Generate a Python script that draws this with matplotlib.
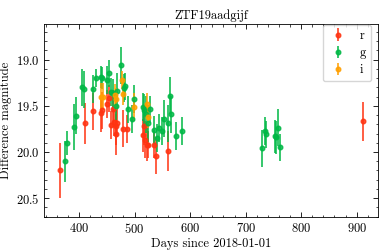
import matplotlib
matplotlib.use("Agg")
import matplotlib.pyplot as plt
from matplotlib.ticker import MultipleLocator

plt.rcParams['font.family'] = ['cmr10', 'DejaVu Serif']
plt.rcParams['axes.formatter.use_mathtext'] = True
plt.rcParams['font.size'] = 9

# r band
r_days = [365.8, 410.2, 425.2, 439.6, 442.0, 450.5, 454.7, 457.7, 461.9, 463.0,
          466.0, 466.7, 469.0, 480.0, 486.0, 514.7, 516.5, 519.5, 522.0, 524.3,
          535.0, 538.7, 559.8, 911.0]
r_mag = [20.20, 19.69, 19.56, 19.58, 19.55, 19.48, 19.42, 19.71, 19.53, 19.68,
         19.81, 19.72, 19.69, 19.75, 19.75, 19.82, 19.72, 19.87, 19.92, 19.92,
         19.92, 20.04, 19.99, 19.67]
r_err = [0.30, 0.22, 0.20, 0.20, 0.20, 0.15, 0.15, 0.15, 0.20, 0.15,
         0.22, 0.20, 0.15, 0.20, 0.15, 0.18, 0.20, 0.20, 0.18, 0.15,
         0.15, 0.20, 0.22, 0.21]

# g band
g_days = [374.8, 377.8, 391.0, 395.2, 405.4, 409.6, 425.2, 431.2, 439.6, 442.0,
          450.5, 454.7, 457.7, 461.9, 466.0, 469.0, 476.3, 481.7, 483.5, 488.9,
          494.9, 498.5, 514.7, 517.7, 520.0, 524.3, 527.3, 535.0, 541.0, 544.0,
          549.0, 553.0, 559.8, 563.4, 566.4, 574.2, 585.0, 730.3, 734.0, 737.0,
          752.0, 755.0, 758.6, 761.6]
g_mag = [20.10, 19.90, 19.73, 19.61, 19.30, 19.32, 19.32, 19.20, 19.19, 19.20,
         19.22, 19.15, 19.35, 19.36, 19.50, 19.34, 19.06, 19.31, 19.29, 19.54,
         19.64, 19.43, 19.51, 19.55, 19.59, 19.69, 19.54, 19.76, 19.85, 19.74,
         19.77, 19.64, 19.69, 19.39, 19.59, 19.83, 19.77, 19.96, 19.77, 19.81,
         19.83, 19.84, 19.74, 19.95]
g_err = [0.22, 0.13, 0.25, 0.20, 0.20, 0.20, 0.15, 0.10, 0.12, 0.12,
         0.15, 0.15, 0.15, 0.15, 0.15, 0.20, 0.20, 0.15, 0.15, 0.15,
         0.15, 0.15, 0.15, 0.18, 0.20, 0.20, 0.15, 0.15, 0.15, 0.15,
         0.15, 0.20, 0.20, 0.20, 0.20, 0.15, 0.15, 0.20, 0.15, 0.15,
         0.18, 0.18, 0.20, 0.15]

# i band
i_days = [439.6, 443.8, 464.7, 467.0, 477.5, 479.3, 498.5, 522.0, 524.3]
i_mag = [19.40, 19.40, 19.38, 19.43, 19.22, 19.37, 19.51, 19.48, 19.62]
i_err = [0.15, 0.15, 0.12, 0.12, 0.10, 0.12, 0.15, 0.12, 0.12]

bands = [('r', r_days, r_mag, r_err, '#ff3311'),
         ('g', g_days, g_mag, g_err, '#00b845'),
         ('i', i_days, i_mag, i_err, '#ff9f00')]

fig = plt.figure(figsize=(3.82, 2.52), dpi=100)
ax = fig.add_axes([0.116, 0.138, 0.873, 0.766])

for name, d, m, e, c in bands:
    ax.errorbar(d, m, yerr=e, fmt='o', color=c, ms=3.3, elinewidth=1.3,
                ecolor=c, alpha=0.85, label=name, capsize=0)

ax.set_xlim(337.5, 938)
ax.set_ylim(20.706, 18.617)
ax.xaxis.set_major_locator(MultipleLocator(100))
ax.xaxis.set_minor_locator(MultipleLocator(20))
ax.yaxis.set_major_locator(MultipleLocator(0.5))
ax.yaxis.set_minor_locator(MultipleLocator(0.1))
ax.tick_params(which='both', direction='in', top=True, right=True)
ax.tick_params(which='major', length=3.5, width=0.6)
ax.tick_params(which='minor', length=1.8, width=0.5)
for s in ax.spines.values():
    s.set_linewidth(0.6)

ax.set_xlabel('Days since 2018-01-01', labelpad=1)
ax.set_ylabel('Difference magnitude', labelpad=3)
ax.set_title('ZTF19aadgijf', fontsize=9, pad=4)
ax.legend(loc='upper right', bbox_to_anchor=(0.981, 0.996), fontsize=9,
          handletextpad=1.0, handlelength=1.6, borderpad=0.4,
          labelspacing=0.4, borderaxespad=0, fancybox=True)

fig.savefig('out.png', dpi=100)
